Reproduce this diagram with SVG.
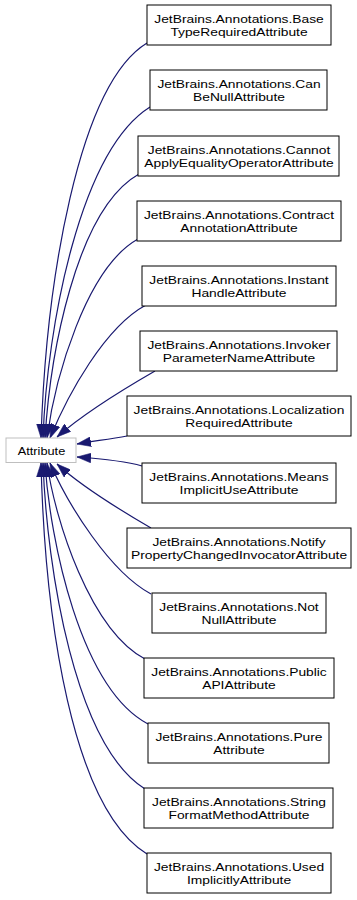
<svg xmlns="http://www.w3.org/2000/svg" width="357" height="900" viewBox="0 0 357 900">
<style>
.bg{fill:#ffffff}
.n rect{fill:#ffffff;stroke:#000000;stroke-width:1}
.n text{font-family:"Liberation Sans",Arial,sans-serif;font-size:11.6px;text-anchor:middle;fill:#000000}
.root rect{fill:#ffffff;stroke:#bfbfbf;stroke-width:1}
.e path{fill:none;stroke:#191970;stroke-width:1.2;marker-end:url(#ah)}
</style>
<defs>
<marker id="ah" markerUnits="userSpaceOnUse" markerWidth="14" markerHeight="10" refX="13" refY="4.5" orient="auto" viewBox="0 0 13 9">
<path d="M0,0 L13,4.5 L0,9 z" fill="#191970" stroke="#191970" stroke-width="0.5"/>
</marker>
</defs>
<rect class="bg" x="0" y="0" width="357" height="900"/>
<g id="edges" class="e">
<path d="M147,43 C78,85 46,283 41,438"/>
<path d="M150,107 C80,151 47,326 43,438"/>
<path d="M139,174 C75,210 50,358 45,438"/>
<path d="M138,239 C86,268 55,378 47,438"/>
<path d="M146,305 C105,327 68,394 50,438"/>
<path d="M155,371 C122,390 82,415 57,437"/>
<path d="M127,436 C110,439 95,441 77,444"/>
<path d="M142,466 C125,461 105,459 77,457"/>
<path d="M151,528 C120,510 80,485 57,464"/>
<path d="M151,594 C110,572 68,505 50,463"/>
<path d="M145,659 C90,630 55,520 47,463"/>
<path d="M148,724 C80,688 50,540 45,463"/>
<path d="M145,789 C75,745 47,570 43,463"/>
<path d="M147,854 C72,808 45,620 41,463"/>
</g>
<g id="Attribute" class="n root">
<rect x="6" y="438" width="70" height="24.5"/>
<text transform="translate(41.5,454.5) scale(1.1,1)">Attribute</text>
</g>
<g id="BaseTypeRequiredAttribute" class="n">
<rect x="147" y="5" width="184" height="40"/>
<text transform="translate(239,0) scale(1.19,1)"><tspan x="0" y="23.5">JetBrains.Annotations.Base</tspan><tspan x="0" y="36">TypeRequiredAttribute</tspan></text>
</g>
<g id="CanBeNullAttribute" class="n">
<rect x="150" y="70" width="177" height="40"/>
<text transform="translate(239,65) scale(1.19,1)"><tspan x="0" y="23.5">JetBrains.Annotations.Can</tspan><tspan x="0" y="36">BeNullAttribute</tspan></text>
</g>
<g id="CannotApplyEqualityOperatorAttribute" class="n">
<rect x="138" y="136" width="201" height="40"/>
<text transform="translate(239,131) scale(1.19,1)"><tspan x="0" y="23.5">JetBrains.Annotations.Cannot</tspan><tspan x="0" y="36">ApplyEqualityOperatorAttribute</tspan></text>
</g>
<g id="ContractAnnotationAttribute" class="n">
<rect x="137" y="201" width="204" height="40"/>
<text transform="translate(239,196) scale(1.19,1)"><tspan x="0" y="23.5">JetBrains.Annotations.Contract</tspan><tspan x="0" y="36">AnnotationAttribute</tspan></text>
</g>
<g id="InstantHandleAttribute" class="n">
<rect x="142" y="266" width="194" height="40"/>
<text transform="translate(239,261) scale(1.19,1)"><tspan x="0" y="23.5">JetBrains.Annotations.Instant</tspan><tspan x="0" y="36">HandleAttribute</tspan></text>
</g>
<g id="InvokerParameterNameAttribute" class="n">
<rect x="140" y="331" width="197" height="40"/>
<text transform="translate(239,326) scale(1.19,1)"><tspan x="0" y="23.5">JetBrains.Annotations.Invoker</tspan><tspan x="0" y="36">ParameterNameAttribute</tspan></text>
</g>
<g id="LocalizationRequiredAttribute" class="n">
<rect x="127" y="396" width="224" height="40"/>
<text transform="translate(239,391) scale(1.19,1)"><tspan x="0" y="23.5">JetBrains.Annotations.Localization</tspan><tspan x="0" y="36">RequiredAttribute</tspan></text>
</g>
<g id="MeansImplicitUseAttribute" class="n">
<rect x="142" y="463" width="194" height="40"/>
<text transform="translate(239,458) scale(1.19,1)"><tspan x="0" y="23.5">JetBrains.Annotations.Means</tspan><tspan x="0" y="36">ImplicitUseAttribute</tspan></text>
</g>
<g id="NotifyPropertyChangedInvocatorAttribute" class="n">
<rect x="127" y="528" width="224" height="40"/>
<text transform="translate(239,523) scale(1.19,1)"><tspan x="0" y="23.5">JetBrains.Annotations.Notify</tspan><tspan x="0" y="36">PropertyChangedInvocatorAttribute</tspan></text>
</g>
<g id="NotNullAttribute" class="n">
<rect x="152" y="593" width="174" height="40"/>
<text transform="translate(239,588) scale(1.19,1)"><tspan x="0" y="23.5">JetBrains.Annotations.Not</tspan><tspan x="0" y="36">NullAttribute</tspan></text>
</g>
<g id="PublicAPIAttribute" class="n">
<rect x="144" y="658" width="190" height="40"/>
<text transform="translate(239,653) scale(1.19,1)"><tspan x="0" y="23.5">JetBrains.Annotations.Public</tspan><tspan x="0" y="36">APIAttribute</tspan></text>
</g>
<g id="PureAttribute" class="n">
<rect x="148" y="723" width="181" height="40"/>
<text transform="translate(239,718) scale(1.19,1)"><tspan x="0" y="23.5">JetBrains.Annotations.Pure</tspan><tspan x="0" y="36">Attribute</tspan></text>
</g>
<g id="StringFormatMethodAttribute" class="n">
<rect x="144" y="788" width="189" height="40"/>
<text transform="translate(239,783) scale(1.19,1)"><tspan x="0" y="23.5">JetBrains.Annotations.String</tspan><tspan x="0" y="36">FormatMethodAttribute</tspan></text>
</g>
<g id="UsedImplicitlyAttribute" class="n">
<rect x="147" y="853" width="184" height="40"/>
<text transform="translate(239,848) scale(1.19,1)"><tspan x="0" y="23.5">JetBrains.Annotations.Used</tspan><tspan x="0" y="36">ImplicitlyAttribute</tspan></text>
</g>
</svg>
